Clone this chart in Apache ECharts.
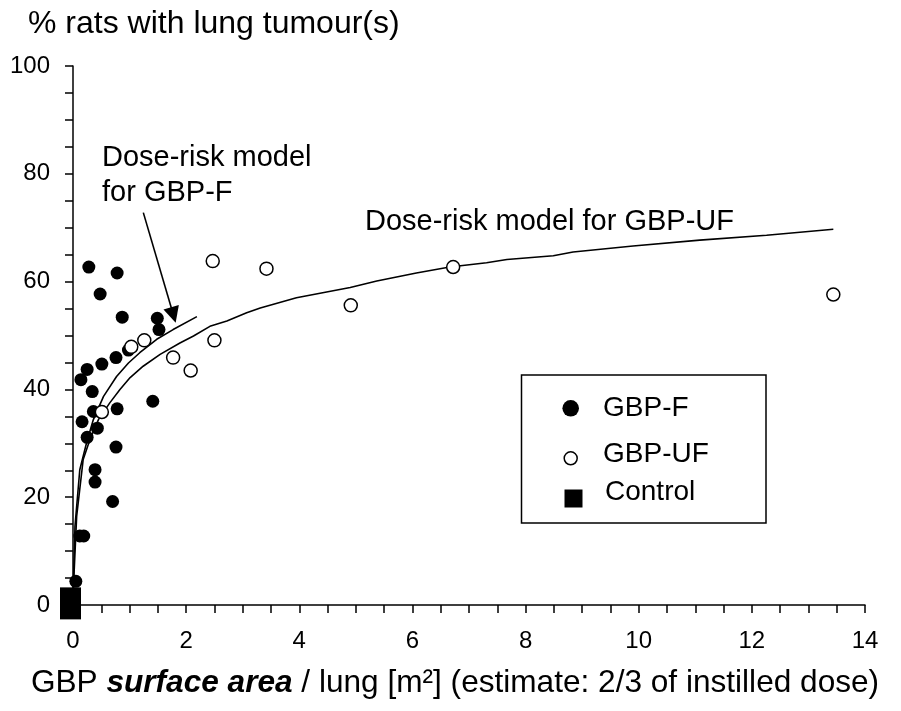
<!DOCTYPE html>
<html>
<head>
<meta charset="utf-8">
<script src="https://cdn.jsdelivr.net/npm/echarts@6/dist/echarts.min.js"></script>
<style>
  html, body { margin: 0; padding: 0; background: #fff; }
  #chart { width: 901px; height: 711px; }
</style>
</head>
<body>
<div id="chart"></div>
<script>
// GBP-F (fine particles): surface area per lung [m2] / % rats with tumours
var fSurface = [0.28, 0.78, 0.48, 0.87, 1.49, 1.52, 0.98, 0.76, 0.51, 0.25, 0.14, 0.34, 0.36,
                0.78, 1.41, 0.16, 0.43, 0.25, 0.76, 0.39, 0.39, 0.70, 0.12, 0.19, 0.05];
var fTumour  = [62.7, 61.6, 57.7, 53.4, 53.2, 51.1, 47.3, 45.9, 44.7, 43.7, 41.8, 39.6, 35.9,
                36.4, 37.8, 34.0, 32.8, 31.1, 29.3, 25.1, 22.8, 19.2, 12.8, 12.8, 4.4];

// GBP-UF (ultrafine particles)
var ufSurface = [2.47, 1.03, 1.26, 0.51, 1.77, 2.08, 2.50, 3.42, 4.91, 6.72, 13.44];
var ufTumour  = [63.8, 47.9, 49.1, 35.8, 45.9, 43.5, 49.1, 62.4, 55.6, 62.7, 57.6];

// control group
var ctrlSurface = [0];
var ctrlTumour  = [0.3];

// dose-risk model curves
var modelFx = [0, 0.01, 0.035, 0.12, 0.24, 0.36, 0.54, 0.77, 0.98, 1.18, 1.48, 1.77, 2.19];
var modelFy = [0, 5, 14.6, 25.1, 30.1, 34.4, 38.7, 42.4, 44.9, 46.8, 49.3, 51.1, 53.5];
var modelUFx = [0, 0.015, 0.065, 0.18, 0.30, 0.45, 0.65, 0.83, 1.01, 1.24, 1.54, 1.89, 2.13, 2.42,
                2.72, 3.07, 3.31, 3.95, 4.90, 5.37, 6.07, 6.66, 7.31, 7.67, 8.49, 8.84, 9.90,
                11.08, 12.26, 13.44];
var modelUFy = [0, 5, 16.5, 27.0, 30.7, 34.4, 37.5, 40.0, 42.2, 44.3, 46.5, 48.6, 49.9, 51.7,
                52.7, 54.2, 55.1, 57.0, 58.9, 60.1, 61.6, 62.7, 63.5, 64.1, 64.8, 65.5, 66.6,
                67.7, 68.6, 69.7];

// arrow pointing at the GBP-F model curve (start, end)
var arrowX = [1.243, 1.775];
var arrowY = [72.8, 53.8];

function pairs(xs, ys){
  var out = [];
  for(var i = 0; i < xs.length; i++){
    out.push([xs[i], ys[i]]);
  }
  return out;
}

var FONT = 'Arial, "Liberation Sans", sans-serif';
var chart = echarts.init(document.getElementById('chart'), null, {renderer: 'canvas'});

var option = {
  backgroundColor: '#fff',
  animation: false,
  grid: {left: 73, right: 36, top: 66, bottom: 106},
  xAxis: {
    type: 'value',
    min: 0,
    max: 14,
    interval: 0.5,
    axisLine: {lineStyle: {color: '#000', width: 1.5}},
    axisTick: {length: 8, lineStyle: {color: '#000', width: 1.5}},
    axisLabel: {
      margin: 24,
      color: '#000',
      fontSize: 24,
      fontFamily: FONT,
      formatter: function(v){ return v % 2 === 0 ? v + '' : ''; }
    },
    splitLine: {show: false}
  },
  yAxis: {
    type: 'value',
    min: 0,
    max: 100,
    interval: 5,
    axisLine: {show: true, lineStyle: {color: '#000', width: 1.5}},
    axisTick: {show: true, length: 8, lineStyle: {color: '#000', width: 1.5}},
    axisLabel: {
      margin: 23,
      color: '#000',
      fontSize: 24,
      fontFamily: FONT,
      formatter: function(v){ return v % 20 === 0 ? v + '' : ''; }
    },
    splitLine: {show: false}
  },
  series: [
    {
      name: 'Dose-risk model for GBP-UF',
      type: 'line',
      data: pairs(modelUFx, modelUFy),
      showSymbol: false,
      symbol: 'none',
      lineStyle: {color: '#000', width: 1.6},
      silent: true,
      z: 1
    },
    {
      name: 'Dose-risk model for GBP-F',
      type: 'line',
      data: pairs(modelFx, modelFy),
      showSymbol: false,
      symbol: 'none',
      lineStyle: {color: '#000', width: 1.6},
      silent: true,
      z: 1
    },
    {
      type: 'lines',
      coordinateSystem: 'cartesian2d',
      data: [{coords: pairs(arrowX, arrowY)}],
      symbol: ['none', 'triangle'],
      symbolSize: [13, 16],
      lineStyle: {color: '#000', width: 1.6, opacity: 1},
      silent: true,
      z: 2
    },
    {
      name: 'GBP-F',
      type: 'scatter',
      data: pairs(fSurface, fTumour),
      symbol: 'circle',
      symbolSize: 13,
      clip: false,
      itemStyle: {color: '#000', opacity: 1},
      z: 3
    },
    {
      name: 'GBP-UF',
      type: 'scatter',
      data: pairs(ufSurface, ufTumour),
      symbol: 'circle',
      symbolSize: 13,
      clip: false,
      itemStyle: {color: '#fff', borderColor: '#000', borderWidth: 1.5, opacity: 1},
      z: 4
    },
    {
      name: 'Control',
      type: 'scatter',
      data: pairs(ctrlSurface, ctrlTumour),
      symbol: 'rect',
      symbolSize: [21, 32],
      symbolOffset: [-2.5, 0],
      clip: false,
      itemStyle: {color: '#000', opacity: 1},
      z: 5
    }
  ],
  graphic: [
    // axis titles
    {type: 'text', x: 28, y: 24, style: {text: '% rats with lung tumour(s)', font: '32px ' + FONT, fill: '#000', verticalAlign: 'middle'}},
    {
      type: 'text', x: 455, y: 683,
      style: {
        text: '{n|GBP }{b|surface area}{n| / lung [m²] (estimate: 2/3 of instilled dose)}',
        align: 'center', verticalAlign: 'middle',
        rich: {
          n: {fontSize: 31.6, fontFamily: FONT, fill: '#000'},
          b: {fontSize: 31.6, fontFamily: FONT, fontWeight: 'bold', fontStyle: 'italic', fill: '#000'}
        }
      }
    },
    // annotations
    {type: 'text', x: 102, y: 158, style: {text: 'Dose-risk model', font: '29px ' + FONT, fill: '#000', verticalAlign: 'middle'}},
    {type: 'text', x: 102, y: 193, style: {text: 'for GBP-F', font: '29px ' + FONT, fill: '#000', verticalAlign: 'middle'}},
    {type: 'text', x: 365, y: 222, style: {text: 'Dose-risk model for GBP-UF', font: '29px ' + FONT, fill: '#000', verticalAlign: 'middle'}},
    // legend box
    {type: 'rect', shape: {x: 521.5, y: 375, width: 244.5, height: 148}, style: {fill: '#fff', stroke: '#000', lineWidth: 1.5}, z: 10},
    {type: 'circle', shape: {cx: 570.7, cy: 408.3, r: 8.3}, style: {fill: '#000'}, z: 11},
    {type: 'text', x: 603, y: 408.3, style: {text: 'GBP-F', font: '28px ' + FONT, fill: '#000', verticalAlign: 'middle'}, z: 11},
    {type: 'circle', shape: {cx: 570.7, cy: 458.3, r: 6.5}, style: {fill: '#fff', stroke: '#000', lineWidth: 1.5}, z: 11},
    {type: 'text', x: 603, y: 454.7, style: {text: 'GBP-UF', font: '28px ' + FONT, fill: '#000', verticalAlign: 'middle'}, z: 11},
    {type: 'rect', shape: {x: 564.5, y: 489.5, width: 18, height: 18}, style: {fill: '#000'}, z: 11},
    {type: 'text', x: 605, y: 492.5, style: {text: 'Control', font: '28px ' + FONT, fill: '#000', verticalAlign: 'middle'}, z: 11}
  ]
};

chart.setOption(option);
</script>
</body>
</html>
